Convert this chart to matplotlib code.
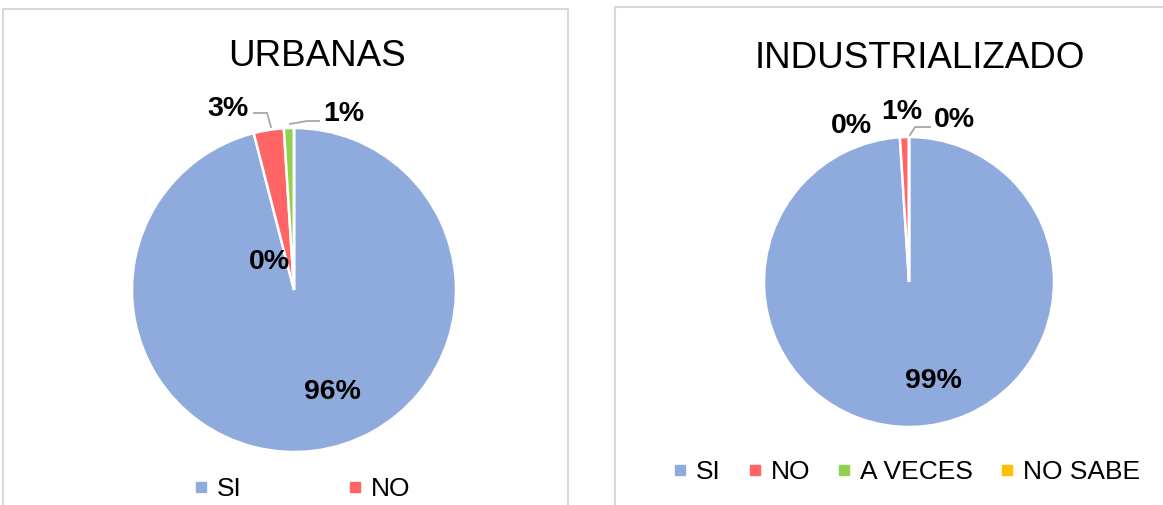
import matplotlib
matplotlib.use("Agg")
import matplotlib.pyplot as plt
from matplotlib.patches import Rectangle
from matplotlib.lines import Line2D

plt.rcParams['font.family'] = ['Liberation Sans', 'DejaVu Sans']

categories = ["SI", "NO", "A VECES", "NO SABE"]
colors = ["#8FAADC", "#FF6565", "#92D050", "#FFC000"]

urbanas_values = [96, 3, 1, 0]
urbanas_labels = ["96%", "3%", "1%", "0%"]
ind_values = [99, 1, 0, 0]
ind_labels = ["99%", "1%", "0%", "0%"]

W, H = 1163, 505
fig = plt.figure(figsize=(W / 100, H / 100), dpi=100)

# panel borders
fig.patches.append(Rectangle((3 / W, -0.02), 565 / W, (H - 9) / H + 0.02,
                             transform=fig.transFigure, fill=False,
                             edgecolor="#D9D9D9", linewidth=1.5))
fig.patches.append(Rectangle((615 / W, -0.02), 560 / W, (H - 7) / H + 0.02,
                             transform=fig.transFigure, fill=False,
                             edgecolor="#D9D9D9", linewidth=1.5))


def make_pie(cx, cy, r, values, labels, label_pos, leaders, title, tx, ty,
             legend_cats, legend_anchor, colspacing):
    ax = fig.add_axes([(cx - r) / W, (H - cy - r) / H, 2 * r / W, 2 * r / H])
    ax.pie(values, colors=colors, startangle=90, counterclock=False,
           radius=1, wedgeprops=dict(edgecolor="white", linewidth=1.8))
    ax.set_xlim(-1, 1)
    ax.set_ylim(-1, 1)
    ax.axis("off")
    for lab, (x, y) in zip(labels, label_pos):
        ax.text(x, y, lab, ha="center", va="center", fontsize=20.5,
                fontweight="bold", color="black", clip_on=False)
    for pts in leaders:
        xs = [(p[0] - cx) / r for p in pts]
        ys = [(cy - p[1]) / r for p in pts]
        ax.add_line(Line2D(xs, ys, color="#A6A6A6", linewidth=1.3,
                           clip_on=False))
    fig.text(tx / W, 1 - ty / H, title, ha="center", va="center",
             fontsize=26.5, color="black")
    handles = [Line2D([], [], marker="s", linestyle="", markersize=7,
                      color=colors[categories.index(c)]) for c in legend_cats]
    fig.legend(handles, legend_cats, loc="center",
               bbox_to_anchor=(legend_anchor[0] / W, 1 - legend_anchor[1] / H),
               ncol=len(legend_cats), frameon=False, fontsize=19,
               handlelength=0.6, handletextpad=0.3, columnspacing=colspacing)
    return ax


# URBANAS: label positions in pie-radius units
make_pie(294, 290, 162, urbanas_values, urbanas_labels,
         [(0.24, -0.63), (-0.41, 1.12), (0.31, 1.085), (-0.15, 0.17)],
         [[(254, 113), (267, 113), (271, 127)],
          [(290, 124), (307, 121), (319, 121)]],
         "URBANAS", 317, 57, ["SI", "NO"], (302, 489), 4.0)

make_pie(909, 282, 145, ind_values, ind_labels,
         [(0.166, -0.683), (-0.048, 1.17), (-0.40, 1.076), (0.31, 1.117)],
         [[(910, 135), (915, 127), (930, 127)]],
         "INDUSTRIALIZADO", 920, 59, categories, (906, 472), 1.0)

fig.savefig("out.png", dpi=100)
